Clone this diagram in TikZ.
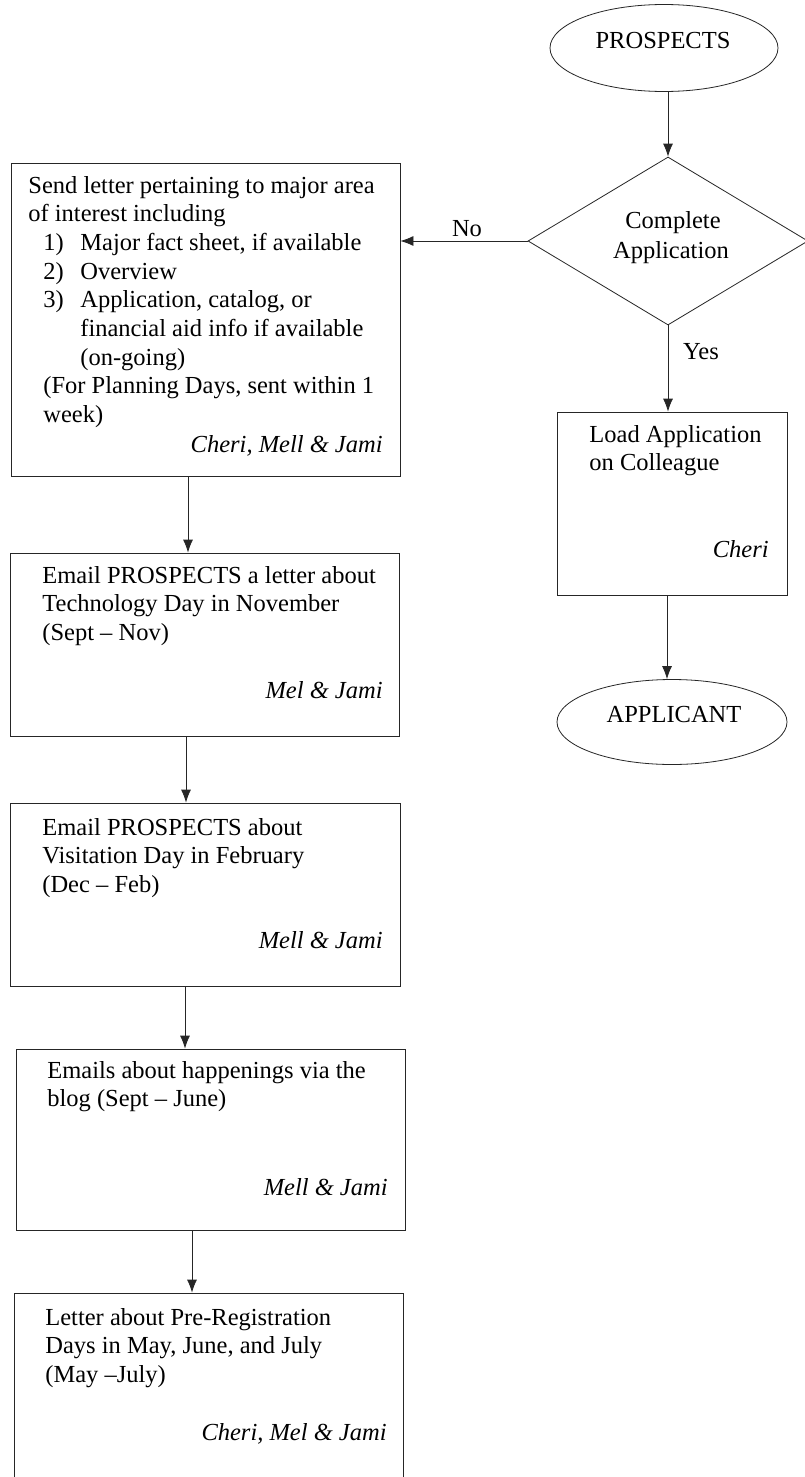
\documentclass[tikz,border=0pt]{standalone}
\usepackage{fontspec}
\setmainfont{Liberation Serif}
\usetikzlibrary{shapes.geometric,arrows.meta}
\newcommand{\boxlines}[1]{\begin{tabular}[t]{@{}l@{}}#1\end{tabular}}
\newcommand{\listentry}[2]{\hspace*{15pt}\makebox[37pt][l]{#1}#2}
\begin{document}
\begin{tikzpicture}[x=1pt,y=-1pt,
  font=\fontsize{24.5}{28.7}\selectfont,
  line width=0.8pt, draw=black!85,
  stepbox/.style={draw, rectangle, inner sep=0pt},
  term/.style={draw, ellipse, inner sep=0pt},
  decision/.style={draw, diamond, inner sep=0pt},
  txt/.style={inner sep=0pt, anchor=base west},
  who/.style={inner sep=0pt, anchor=base east, font=\fontsize{24.5}{28.7}\selectfont\itshape},
  lbl/.style={inner sep=0pt, anchor=base},
  arr/.style={draw=black!85, -{Latex[length=13pt,width=10pt]}}]
\useasboundingbox (0,0) rectangle (804,1477);
\fill[white] (0,0) rectangle (804,1477);

% right column: application path
\node[term, minimum width=228pt, minimum height=87pt] (pros) at (664,48) {};
\node[lbl] at (663,49) {PROSPECTS};
\node[decision, minimum width=280pt, minimum height=168pt] (dec) at (668,241) {};
\node[lbl] at (673,228) {Complete};
\node[lbl] at (671,258) {Application};
\node[stepbox, minimum width=230pt, minimum height=183pt] (load) at (672,503.5) {};
\node[txt] at (589,442) {\boxlines{Load Application\\on Colleague}};
\node[who] at (769,557) {Cheri};
\node[term, minimum width=230pt, minimum height=85pt] (appl) at (672,722) {};
\node[lbl] at (674,722) {APPLICANT};

% left column: follow-up contacts
\node[stepbox, minimum width=389pt, minimum height=313pt] (b1) at (205.5,319.5) {};
\node[txt] at (28,193) {\boxlines{Send letter pertaining to major area\\
  of interest including\\
  \listentry{1)}{Major fact sheet, if available}\\
  \listentry{2)}{Overview}\\
  \listentry{3)}{Application, catalog, or}\\
  \listentry{}{financial aid info if available}\\
  \listentry{}{(on-going)}\\
  \hspace*{15pt}(For Planning Days, sent within 1\\
  \hspace*{15pt}week)}};
\node[who] at (383,452) {Cheri, Mell \& Jami};

\node[stepbox, minimum width=389pt, minimum height=183pt] (b2) at (204.5,644.5) {};
\node[txt] at (42,583) {\boxlines{Email PROSPECTS a letter about\\Technology Day in November\\(Sept -- Nov)}};
\node[who] at (383,698) {Mel \& Jami};

\node[stepbox, minimum width=390pt, minimum height=183pt] (b3) at (205,894.5) {};
\node[txt] at (42,835) {\boxlines{Email PROSPECTS about\\Visitation Day in February\\(Dec -- Feb)}};
\node[who] at (383,948) {Mell \& Jami};

\node[stepbox, minimum width=389pt, minimum height=181pt] (b4) at (210.5,1139.5) {};
\node[txt] at (47,1078) {\boxlines{Emails about happenings via the\\blog (Sept -- June)}};
\node[who] at (388,1195) {Mell \& Jami};

\node[stepbox, minimum width=389pt, minimum height=197pt] (b5) at (208.5,1391.5) {};
\node[txt] at (45,1325) {\boxlines{Letter about Pre-Registration\\Days in May, June, and July\\(May --July)}};
\node[who] at (387,1440) {Cheri, Mel \& Jami};

% connectors
\draw[arr] (pros.south -| dec.north) -- (dec.north);
\draw[arr] (dec.west) -- (b1.east |- dec.west);
\node[lbl] (no) at (467,236) {No};
\draw[arr] (dec.south) -- (load.north -| dec.south);
\node[lbl] (yes) at (701,359) {Yes};
\draw[arr] (load.south -| 667,0) -- (appl.north -| 667,0);
\draw[arr] (b1.south -| 188,0) -- (b2.north -| 188,0);
\draw[arr] (b2.south -| 186,0) -- (b3.north -| 186,0);
\draw[arr] (b3.south -| 185,0) -- (b4.north -| 185,0);
\draw[arr] (b4.south -| 192,0) -- (b5.north -| 192,0);
\end{tikzpicture}
\end{document}
